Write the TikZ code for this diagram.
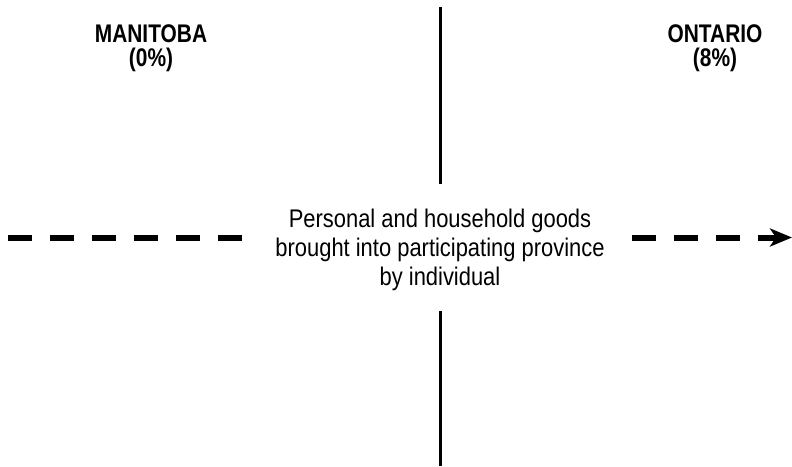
\documentclass[tikz,border=0pt]{standalone}
\usepackage{fontspec}
\setmainfont{Liberation Sans}
\newfontfamily\bodyfont{Liberation Sans}[FakeStretch=0.86]
\newfontfamily\labelfont{Liberation Sans}[FakeStretch=0.82]
\usetikzlibrary{arrows.meta}
\begin{document}
\begin{tikzpicture}[x=1pt,y=-1pt,
  province/.style={align=center,inner sep=0pt,font=\labelfont\bfseries\fontsize{25.5}{24.5}\selectfont},
  goods/.style={align=center,inner sep=0pt,font=\bodyfont\fontsize{25.5}{29}\selectfont},
  divider/.style={line width=3pt},
  flow/.style={line width=6pt,dash pattern=on 24pt off 18pt}]
\useasboundingbox (0,0) rectangle (792,466);

% province headings
\node[province] (mb) at (151,48) {MANITOBA\\(0\%)};
\node[province] (on) at (715,48) {ONTARIO\\(8\%)};

% goods description in the middle
\node[goods] (goods) at (440,250) {Personal and household goods\\brought into participating province\\by individual};

% border between the two provinces
\coordinate (bt) at (440,7);
\coordinate (bb) at (440,184);
\coordinate (ct) at (440,311);
\coordinate (cb) at (440,466);
\draw[divider] (bt) -- (bb);
\draw[divider] (ct) -- (cb);

% movement of goods from west to east
\coordinate (w0) at (8,237.5);
\coordinate (w1) at (242,237.5);
\coordinate (e0) at (632,237.5);
\coordinate (e1) at (792,237.5);
\draw[flow] (w0) -- (w1);
\draw[flow,-{Stealth[length=22pt,width=18pt,inset=6pt]}] (e0) -- (e1);
\end{tikzpicture}
\end{document}
